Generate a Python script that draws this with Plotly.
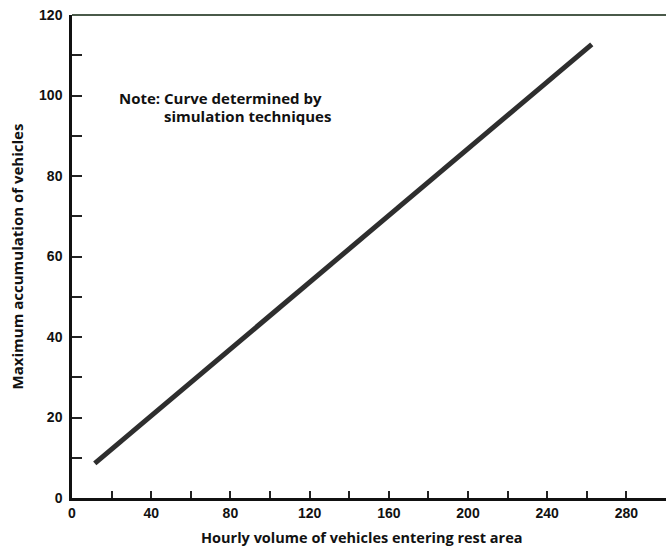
import plotly.graph_objects as go

# Data
volume = [11.5, 262.5]        # hourly volume of vehicles entering rest area
accumulation = [8.6, 112.7]   # maximum accumulation of vehicles
x_tick_vals = [0, 40, 80, 120, 160, 200, 240, 280]
y_tick_vals = [0, 20, 40, 60, 80, 100, 120]

font_family = "Liberation Sans, Arial, sans-serif"
title_family = "Open Sans, Liberation Sans, sans-serif"

fig = go.Figure()
fig.add_trace(go.Scatter(
    x=volume, y=accumulation, mode="lines",
    line=dict(color="#2e2e2e", width=5),
    showlegend=False, hoverinfo="skip",
))

fig.update_layout(
    width=666, height=548,
    margin=dict(l=72, r=0, t=15, b=50),
    paper_bgcolor="white", plot_bgcolor="white",
    font=dict(family=font_family, color="#111", size=14),
    xaxis=dict(
        range=[0, 300], showgrid=False, zeroline=False,
        tickmode="array", tickvals=x_tick_vals,
        ticks="inside", ticklen=7, tickwidth=1.5, tickcolor="#222",
        minor=dict(dtick=20, tick0=0, ticks="inside", ticklen=7, tickwidth=1.5, tickcolor="#222"),
        showline=True, linecolor="#111", linewidth=2.5,
        tickfont=dict(size=14, family=font_family, weight="bold"),
    ),
    yaxis=dict(
        range=[0, 120], showgrid=False, zeroline=False,
        tickmode="array", tickvals=y_tick_vals,
        ticks="inside", ticklen=10, tickwidth=1.5, tickcolor="#222",
        minor=dict(dtick=10, tick0=0, ticks="inside", ticklen=10, tickwidth=1.5, tickcolor="#222"),
        showline=True, linecolor="#111", linewidth=2.5,
        tickfont=dict(size=14, family=font_family, weight="bold"),
        ticklabelstandoff=4,
        title=dict(text="<b>Maximum accumulation of vehicles</b>",
                   font=dict(size=15, family=title_family), standoff=12),
    ),
)

# top frame line
fig.add_shape(type="line", xref="paper", yref="paper", x0=0, x1=1, y0=1, y1=1,
              line=dict(color="#4a5a4a", width=2))

# x-axis title (slightly left of plot centre, as in the original)
fig.add_annotation(
    xref="paper", yref="paper", x=(361.5 - 72) / 594, y=(498 - 537) / 483,
    xanchor="center", yanchor="middle", showarrow=False,
    text="<b>Hourly volume of vehicles entering rest area</b>",
    font=dict(size=14.5, family=title_family, color="#111"),
)

fig.add_annotation(
    xref="paper", yref="paper", x=(117 - 72) / 594, y=(498 - 98) / 483,
    xanchor="left", yanchor="middle", showarrow=False,
    text="<b>Note: Curve determined by</b>",
    font=dict(size=15, family=title_family, color="#111"),
)
fig.add_annotation(
    xref="paper", yref="paper", x=(162 - 72) / 594, y=(498 - 116) / 483,
    xanchor="left", yanchor="middle", showarrow=False,
    text="<b>simulation techniques</b>",
    font=dict(size=15, family=title_family, color="#111"),
)

fig.write_html("out.html")
